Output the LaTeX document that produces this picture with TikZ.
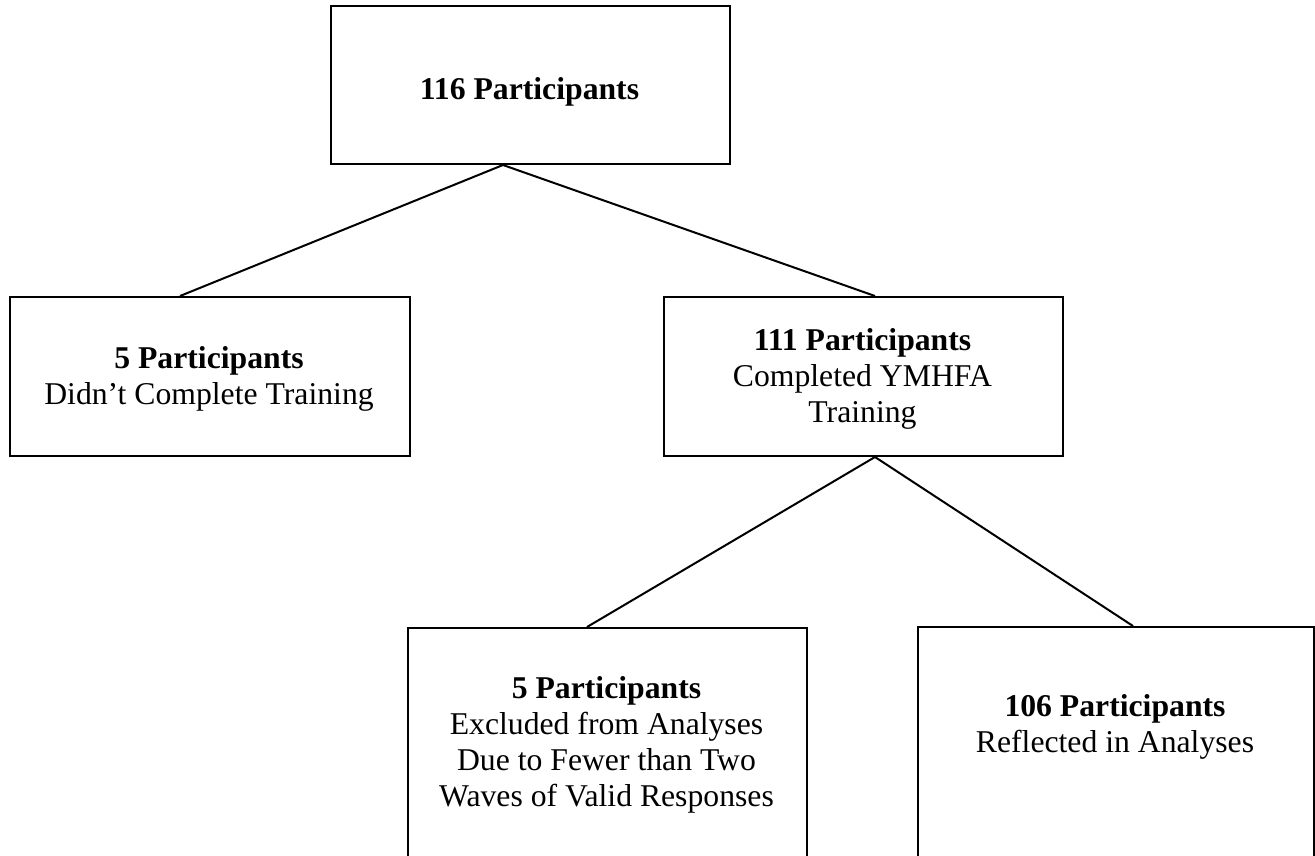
\documentclass[tikz,border=0pt]{standalone}
\usepackage{fontspec}
\setmainfont{Liberation Serif}
\begin{document}
\begin{tikzpicture}[x=1pt,y=-1pt,
  box/.style={draw=black,line width=2pt,rectangle,anchor=north west,inner sep=0pt},
  lbl/.style={anchor=north,align=center,inner sep=0pt,font=\fontsize{31.7pt}{36pt}\selectfont},
  link/.style={draw=black,line width=2pt}]
\useasboundingbox (0,0) rectangle (1315,855);
\clip (0,0) rectangle (1315,855);
\fill[white] (0,0) rectangle (1315,855);
% boxes
\node[box,minimum width=399pt,minimum height=158pt] (top) at (330,5) {};
\node[box,minimum width=400pt,minimum height=159pt] (left) at (9,296) {};
\node[box,minimum width=399pt,minimum height=159pt] (mid) at (663,296) {};
\node[box,minimum width=399pt,minimum height=260pt] (bl) at (407,627) {};
\node[box,minimum width=396pt,minimum height=260pt] (br) at (917,626) {};
% texts
\node[lbl] (ttop) at (529.5,77) {\textbf{116 Participants}};
\node[lbl] (tleft) at (209,346) {\textbf{5 Participants}\\Didn’t Complete Training};
\node[lbl] (tmid) at (862.5,328) {\textbf{111 Participants}\\Completed YMHFA\\Training};
\node[lbl] (tbl) at (606.5,676) {\textbf{5 Participants}\\Excluded from Analyses\\Due to Fewer than Two\\Waves of Valid Responses};
\node[lbl] (tbr) at (1115,694) {\textbf{106 Participants}\\Reflected in Analyses};
% connectors
\draw[link] ([xshift=173pt]top.south west) -- ([xshift=171pt]left.north west);
\draw[link] ([xshift=173pt]top.south west) -- ([xshift=212pt]mid.north west);
\draw[link] ([xshift=212pt]mid.south west) -- ([xshift=180pt]bl.north west);
\draw[link] ([xshift=212pt]mid.south west) -- ([xshift=216pt]br.north west);
\end{tikzpicture}
\end{document}
